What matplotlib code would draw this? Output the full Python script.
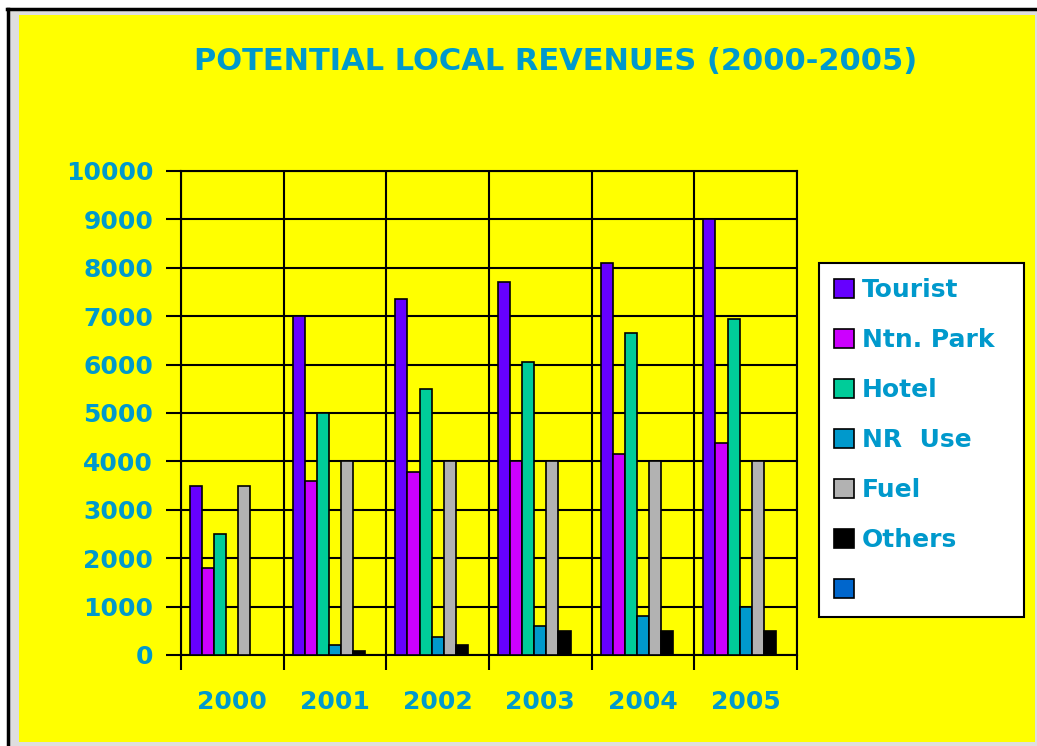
import numpy as np
import matplotlib
matplotlib.use("Agg")
import matplotlib.pyplot as plt
from matplotlib.patches import Rectangle
from matplotlib.lines import Line2D

### DATA
years = ["2000", "2001", "2002", "2003", "2004", "2005"]
tourist = [3500, 7000, 7350, 7700, 8100, 9000]
ntn_park = [1800, 3600, 3780, 4000, 4150, 4370]
hotel = [2500, 5000, 5500, 6050, 6650, 6950]
nr_use = [0, 200, 380, 600, 800, 1000]
fuel = [3500, 4000, 4000, 4000, 4000, 4000]
others = [0, 80, 200, 500, 500, 500]
blank = [0, 0, 0, 0, 0, 0]

series = [tourist, ntn_park, hotel, nr_use, fuel, others, blank]
labels = ["Tourist", "Ntn. Park", "Hotel", "NR  Use", "Fuel", "Others", ""]
colors = ["#6600FF", "#CC00FF", "#00CC99", "#0099CC", "#B2B2B2", "#000000", "#0066CC"]
txt_color = "#0099CC"

### FIGURE
W, H = 1037, 746
fig = plt.figure(figsize=(W / 100, H / 100), dpi=100, facecolor="white")

# frame: grey margin, black border top/left, yellow panel
fig.patches.append(Rectangle((8 / W, 0), 1, 1 - 9 / H, transform=fig.transFigure,
                             facecolor="#dedede", edgecolor="none", zorder=-3))
fig.patches.append(Rectangle((19 / W, 1 - 742 / H), (1035 - 19) / W, (742 - 15) / H,
                             transform=fig.transFigure, facecolor="#FFFF00",
                             edgecolor="none", zorder=-2))
fig.lines.append(Line2D([7 / W, 1], [1 - 9 / H, 1 - 9 / H], transform=fig.transFigure,
                        color="black", lw=2.5))
fig.lines.append(Line2D([8 / W, 8 / W], [0, 1 - 9 / H], transform=fig.transFigure,
                        color="black", lw=2.5))

ax = fig.add_axes([181 / W, 1 - 655 / H, (797 - 181) / W, (655 - 171) / H])
ax.set_facecolor("#FFFF00")

n = len(series)
w = 1 / (n + 1.5)
x = np.arange(len(years))
handles = []
for i, (vals, col) in enumerate(zip(series, colors)):
    b = ax.bar(x + (i - (n - 1) / 2) * w, vals, width=w, color=col,
               edgecolor="black", linewidth=1.2, zorder=3)
    handles.append(b)

ax.set_xlim(-0.5, len(years) - 0.5)
ax.set_ylim(0, 10000)
ax.set_yticks(np.arange(0, 10001, 1000))
ax.set_xticks(np.arange(-0.5, len(years), 1))
ax.set_xticklabels([])
ax.set_xticks(x, minor=True)
ax.set_xticklabels(years, minor=True)
ax.tick_params(axis="x", which="major", direction="out", length=11, width=1.5)
ax.tick_params(axis="x", which="minor", length=0, pad=25)
ax.tick_params(axis="y", direction="out", length=11, width=1.5, pad=9)
for lab in ax.get_yticklabels() + ax.get_xticklabels(minor=True):
    lab.set_fontsize(18)
    lab.set_fontweight("bold")
    lab.set_color(txt_color)

ax.grid(True, which="major", color="black", lw=1.5)
ax.set_axisbelow(True)
for s in ax.spines.values():
    s.set_color("black")
    s.set_linewidth(1.5)

fig.text(556 / W, 1 - 62 / H, "POTENTIAL LOCAL REVENUES (2000-2005)", ha="center",
         va="center", fontsize=22, fontweight="bold", color=txt_color)

leg = fig.legend(handles, labels, loc="upper left",
                 bbox_to_anchor=(819 / W, 1 - 617 / H, (1024 - 819) / W, (617 - 263) / H),
                 mode="expand", borderaxespad=0, fancybox=False, shadow=False,
                 framealpha=1, edgecolor="black", facecolor="white",
                 prop={"size": 18, "weight": "bold"}, handlelength=0.8,
                 handleheight=0.8, handletextpad=0.3, labelspacing=1.04,
                 borderpad=0.6)
leg.get_frame().set_linewidth(1.5)
for t in leg.get_texts():
    t.set_color(txt_color)

fig.savefig("out.png", dpi=100, facecolor=fig.get_facecolor())
